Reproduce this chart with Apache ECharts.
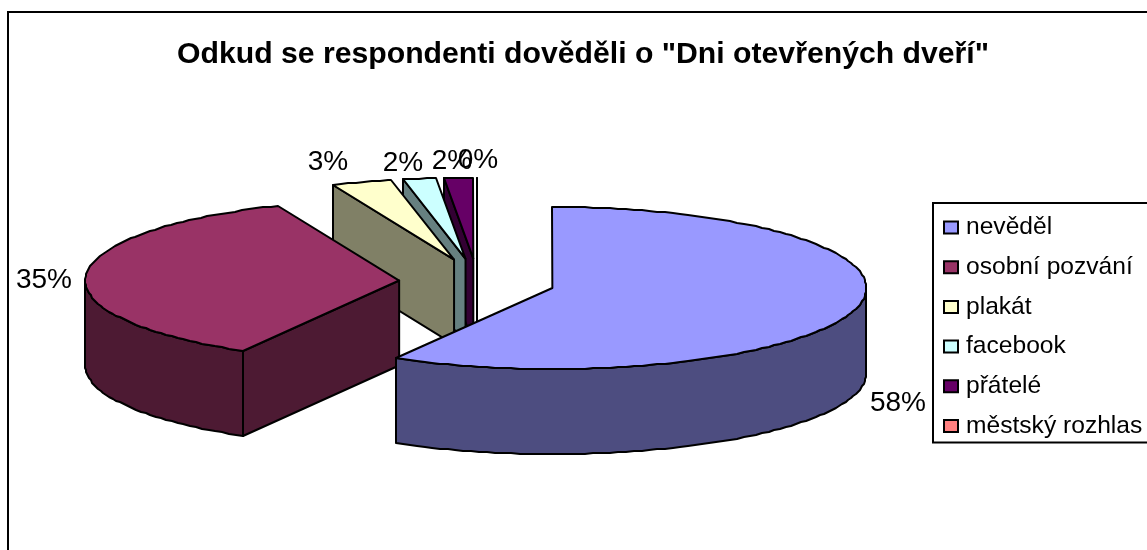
<!DOCTYPE html>
<html>
<head>
<meta charset="utf-8">
<script src="https://cdn.jsdelivr.net/npm/echarts@6/dist/echarts.min.js"></script>
<style>html,body{margin:0;padding:0;background:#fff}#chart{width:1147px;height:550px}</style>
</head>
<body>
<div id="chart"></div>
<script>
// Survey answers, in percent of respondents
const titleText = 'Odkud se respondenti dověděli o "Dni otevřených dveří"';
const categories = ['nevěděl', 'osobní pozvání', 'plakát', 'facebook', 'přátelé', 'městský rozhlas'];
const shares = [58.3, 35.4, 3.1, 1.7, 1.5, 0];
const topColors = ['#9999FF', '#993366', '#FFFFCC', '#CCFFFF', '#660066', '#FF8080'];
const sideColors = ['#4D4D80', '#4D1A33', '#808066', '#668080', '#330033', '#804040'];
// Painting order of the slices, farthest first
const paintOrder = [5, 4, 3, 2, 1, 0];

// Projection of the exploded pie
const pie = { cx: 477, cy: 282, rx: 314, ry: 81, depth: 85, explode: 78, explodeTilt: 0.3, stepDeg: 1.5 };
// Label distance from the slice's rim point, in pixels
const labelOffsets = [[42, 94], [-42, 5], [-34, -20], [-16, -16], [-7, -17], [1, -18]];

const rad = d => d * Math.PI / 180;
const total = shares.reduce((a, b) => a + b, 0);
const slices = [];
shares.reduce((start, v, i) => {
  const end = start + v / total * 360;
  slices[i] = { start, end, mid: (start + end) / 2 };
  return end;
}, 0);

function renderSlice(params, api) {
  const i = params.seriesIndex;
  const value = api.value(0);
  const s = slices[i];
  const ax = pie.cx + pie.explode * Math.sin(rad(s.mid));
  const ay = pie.cy - pie.explode * pie.explodeTilt * Math.cos(rad(s.mid));
  const rimPoint = (deg, drop) => [
    Math.round(ax + pie.rx * Math.sin(rad(deg))),
    Math.round(ay - pie.ry * Math.cos(rad(deg)) + (drop || 0))
  ];
  const arc = (from, to, drop) => {
    const pts = [];
    for (let d = from; d < to; d += pie.stepDeg) pts.push(rimPoint(d, drop));
    pts.push(rimPoint(to, drop));
    return pts;
  };
  const edge = { stroke: '#000', lineWidth: 2, lineJoin: 'round' };
  const children = [];
  const face = (points, fill) => children.push({
    type: 'polygon', shape: { points }, style: Object.assign({ fill }, edge)
  });

  // The cut side that turns towards the viewer
  if (s.start > 180) {
    const o = rimPoint(s.start);
    face([[ax, ay], o, [o[0], o[1] + pie.depth], [ax, ay + pie.depth]], sideColors[i]);
  }
  // The front part of the rim
  const from = Math.max(s.start, 90), to = Math.min(s.end, 270);
  if (to > from) {
    face(arc(from, to).concat(arc(from, to, pie.depth).reverse()), sideColors[i]);
  }
  // The top of the slice
  face([[ax, ay]].concat(arc(s.start, s.end)), topColors[i]);

  // Percentage label
  const anchor = rimPoint(s.mid);
  children.push({
    type: 'text',
    style: {
      text: Math.round(value) + '%',
      x: anchor[0] + labelOffsets[i][0],
      y: anchor[1] + labelOffsets[i][1],
      align: 'center', verticalAlign: 'middle',
      font: '28px "Liberation Sans"', fill: '#000'
    }
  });
  return { type: 'group', children };
}

const chart = echarts.init(document.getElementById('chart'), null, { renderer: 'canvas' });
chart.setOption({
  animation: false,
  backgroundColor: '#fff',
  title: {
    text: titleText, left: 578, top: 35, textAlign: 'center',
    textStyle: { fontFamily: 'Liberation Sans', fontWeight: 'bold', fontSize: 30.2, color: '#000' }
  },
  legend: {
    orient: 'vertical', left: 933, top: 203, padding: [12, 30, 4, 10],
    backgroundColor: '#fff', borderColor: '#000', borderWidth: 2, borderRadius: 0,
    itemWidth: 14, itemHeight: 12, itemGap: 14.7, icon: 'rect', selectedMode: false,
    itemStyle: { borderColor: '#000', borderWidth: 2 },
    textStyle: { fontFamily: 'Liberation Sans', fontSize: 24.6, color: '#000', lineHeight: 23, padding: [0, 0, 0, 3] },
    data: categories
  },
  graphic: [{
    type: 'rect', z: -1, silent: true,
    shape: { x: 8, y: 12, width: 1300, height: 700 },
    style: { fill: '#fff', stroke: '#000', lineWidth: 2 }
  }],
  series: categories.map((name, i) => ({
    type: 'custom', name, coordinateSystem: 'none',
    z: 2 + paintOrder.indexOf(i),
    itemStyle: { color: topColors[i] },
    data: [[shares[i]]],
    encode: { value: 0 },
    renderItem: renderSlice
  }))
});
</script>
</body>
</html>
